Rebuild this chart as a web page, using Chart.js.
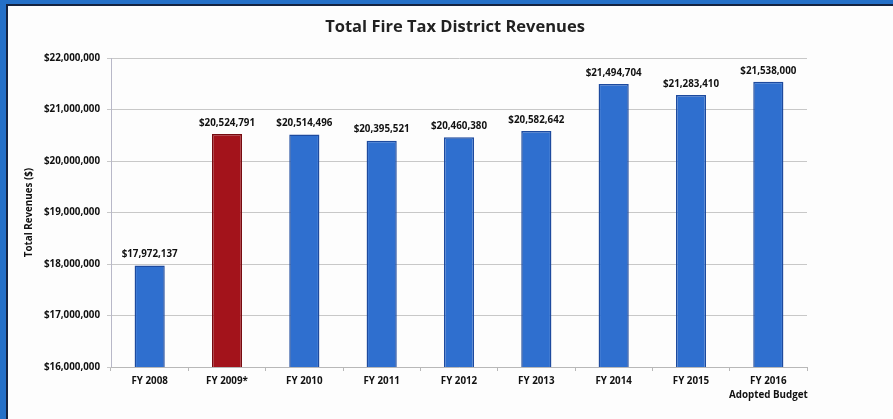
<!DOCTYPE html>
<html>
<head>
<meta charset="utf-8">
<title>Total Fire Tax District Revenues</title>
<script src="https://cdn.jsdelivr.net/npm/chart.js@4"></script>
<style>
  html, body { margin: 0; padding: 0; }
  body { width: 893px; height: 419px; background: #2470c8; position: relative; overflow: hidden; }
  #panel {
    position: absolute; left: 6px; top: 4px; right: 0; bottom: 0;
    background: #fdfdfd;
    border-left: 2px solid #15233f; border-top: 2px solid #15233f;
  }
  #revChart { position: absolute; left: 0; top: 0; }
</style>
</head>
<body>
<div id="panel"></div>
<canvas id="revChart" width="893" height="419"></canvas>
<script>
const chartTitle = 'Total Fire Tax District Revenues';
const fiscalYears = ['FY 2008', 'FY 2009*', 'FY 2010', 'FY 2011', 'FY 2012', 'FY 2013', 'FY 2014', 'FY 2015', ['FY 2016', 'Adopted Budget']];
const revenues = [17972137, 20524791, 20514496, 20395521, 20460380, 20582642, 21494704, 21283410, 21538000];
const yTicks = [16000000, 17000000, 18000000, 19000000, 20000000, 21000000, 22000000];

const blueFill = '#2f6fcf';
const blueEdge = '#1d4a9e';
const redFill = '#a3131b';
const redEdge = '#760b10';

const fillColors = revenues.map((v, i) => i === 1 ? redFill : blueFill);
const edgeColors = revenues.map((v, i) => i === 1 ? redEdge : blueEdge);

const fontFamily = '"Open Sans", sans-serif';
const smallFont = { family: fontFamily, size: 9.8, weight: 'bold' };

function money(v) {
    return '$' + v.toLocaleString('en-US');
}

// title centred over the plot area rather than the whole canvas
const plotTitle = {
    id: 'plotTitle',
    afterDraw(chart) {
        const ctx = chart.ctx;
        const area = chart.chartArea;
        ctx.save();
        ctx.font = 'bold 16.5px ' + fontFamily;
        ctx.fillStyle = '#222';
        ctx.textAlign = 'center';
        ctx.textBaseline = 'middle';
        ctx.fillText(chartTitle, (area.left + area.right) / 2 - 4, 27);
        ctx.restore();
    }
};

// value labels above each bar
const barValueLabels = {
    id: 'barValueLabels',
    afterDatasetsDraw(chart) {
        const ctx = chart.ctx;
        const meta = chart.getDatasetMeta(0);
        ctx.save();
        ctx.font = 'bold 9.8px ' + fontFamily;
        ctx.fillStyle = '#111';
        ctx.textAlign = 'center';
        ctx.textBaseline = 'middle';
        meta.data.forEach((bar, i) => {
            ctx.fillText(money(revenues[i]), bar.x, bar.y - 11);
        });
        ctx.restore();
    }
};

const ctx = document.getElementById('revChart').getContext('2d');
const chart = new Chart(ctx, {
    type: 'bar',
    data: {
        labels: fiscalYears,
        datasets: [{
            data: revenues,
            backgroundColor: fillColors,
            borderColor: edgeColors,
            borderWidth: 1.5,
            barPercentage: 0.39,
            categoryPercentage: 1.0
        }]
    },
    options: {
        responsive: false,
        animation: false,
        layout: { padding: { top: 58, right: 86 } },
        plugins: {
            legend: { display: false },
            tooltip: { enabled: false },
            title: { display: false }
        },
        scales: {
            y: {
                min: 16000000,
                max: 22000000,
                afterFit(scale) { scale.width = 111; },
                afterBuildTicks(scale) { scale.ticks = yTicks.map(v => ({ value: v })); },
                ticks: {
                    color: '#111',
                    padding: 7,
                    font: smallFont,
                    callback: v => money(v)
                },
                grid: { color: '#c8c8c8', tickLength: 4, lineWidth: 1 },
                border: { color: '#b8b8c8' },
                title: {
                    display: true,
                    text: 'Total Revenues ($)',
                    color: '#111',
                    font: smallFont,
                    padding: { top: 23 }
                }
            },
            x: {
                afterFit(scale) { scale.height = 52; },
                ticks: {
                    color: '#111',
                    padding: 3,
                    maxRotation: 0,
                    autoSkip: false,
                    font: { family: fontFamily, size: 9.8, weight: 'bold', lineHeight: 1.45 }
                },
                grid: { drawOnChartArea: false, tickLength: 4, color: '#b8b8b8' },
                border: { color: '#b8b8b8' }
            }
        }
    },
    plugins: [barValueLabels, plotTitle]
});
</script>
</body>
</html>
